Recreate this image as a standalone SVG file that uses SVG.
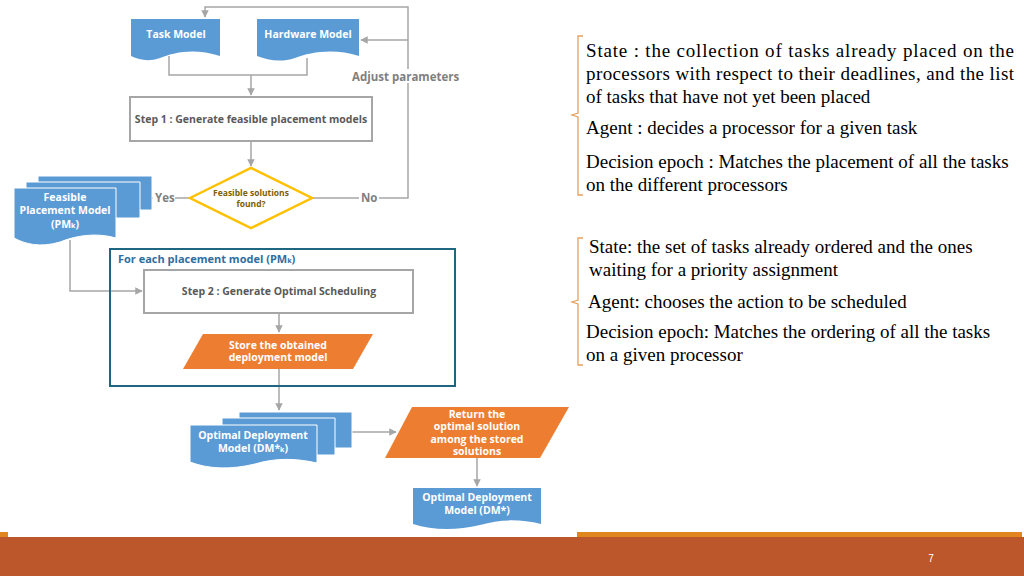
<svg xmlns="http://www.w3.org/2000/svg" width="1024" height="576" viewBox="0 0 1024 576">
<defs>
<style>
.doc{fill:#5B9BD5}
.dt{font-family:"Open Sans","Liberation Sans",sans-serif;font-weight:bold;font-size:10.5px;fill:#fff;text-anchor:middle}
.c{fill:none;stroke:#A6A6A6;stroke-width:1.5}
.box{fill:#fff;stroke:#A6A6A6;stroke-width:2}
.bt{font-family:"Open Sans","Liberation Sans",sans-serif;font-weight:bold;font-size:10.5px;fill:#595959;text-anchor:middle}
.lb{font-family:"Open Sans","Liberation Sans",sans-serif;font-weight:bold;font-size:11.5px;fill:#7F7F7F}
.par{fill:#ED7D31}
.rt{font-family:"Liberation Serif",serif;font-size:19px;fill:#000}
.br{fill:none;stroke:#E6A15C;stroke-width:1.3}
</style>
<marker id="a" viewBox="0 0 10 10" refX="9" refY="5" markerWidth="5" markerHeight="5" orient="auto"><path d="M0,0 L10,5 L0,10 z" fill="#A6A6A6"/></marker>
</defs>
<rect width="1024" height="576" fill="#fff"/>
<g id="connectors">
<path class="c" d="M312,198 H408 V7 H205 V17" marker-end="url(#a)"/>
<path class="c" d="M408,40 H361" marker-end="url(#a)"/>
<path class="c" d="M169,56 V75 H307 V58"/>
<path class="c" d="M251,75 V95" marker-end="url(#a)"/>
<path class="c" d="M251,141 V166" marker-end="url(#a)"/>
<path class="c" d="M190,198 H141" marker-end="url(#a)"/>
<path class="c" d="M70,240 V291 H142" marker-end="url(#a)"/>
<path class="c" d="M279,313 V332" marker-end="url(#a)"/>
<path class="c" d="M279,369 V410" marker-end="url(#a)"/>
<path class="c" d="M352,432 H396" marker-end="url(#a)"/>
<path class="c" d="M477,458 V486" marker-end="url(#a)"/>
</g>
<g id="task-model"><path class="doc" d="M131,19 H220 V56 C195,48 175,52 160,58 C148,62 140,60 131,56 Z"/><text class="dt" x="176" y="38">Task Model</text></g>
<g id="hardware-model"><path class="doc" d="M257,19 H359 V56 C335,48 310,52 295,58 C280,63 268,60 257,56 Z"/><text class="dt" x="308" y="38">Hardware Model</text></g>
<rect x="351" y="69" width="106" height="14" fill="#fff"/>
<text class="lb" x="352" y="81">Adjust parameters</text>
<g id="step1"><rect class="box" x="130" y="97" width="242" height="44"/><text class="bt" x="251" y="123">Step 1 : Generate feasible placement models</text></g>
<g id="decision"><path d="M190,198 L251,168 L312,198 L251,228 Z" fill="#fff" stroke="#FFC000" stroke-width="2.5"/><text font-family="Open Sans, Liberation Sans, sans-serif" font-weight="bold" font-size="8.5" fill="#7F6000" text-anchor="middle"><tspan x="251" y="196">Feasible solutions</tspan><tspan x="251" y="207">found?</tspan></text></g>
<rect x="153" y="190" width="22" height="14" fill="#fff"/>
<text class="lb" x="155" y="202">Yes</text>
<rect x="359" y="190" width="20" height="14" fill="#fff"/>
<text class="lb" x="361" y="202">No</text>
<g id="feasible">
<path class="doc" d="M38,176 H152 V210 H38 Z" stroke="#fff" stroke-width="1"/>
<path class="doc" d="M26,182 H140 V218 H26 Z" stroke="#fff" stroke-width="1"/>
<path class="doc" d="M14,188 H116 V238 C95,232 75,236 60,242 C40,248 25,244 14,238 Z" stroke="#fff" stroke-width="1"/>
<text class="dt"><tspan x="65" y="201">Feasible</tspan><tspan x="65" y="214">Placement Model</tspan><tspan x="65" y="228">(PM<tspan font-size="7">k</tspan>)</tspan></text>
</g>
<g id="loop-box"><rect x="110" y="249" width="345" height="137" fill="none" stroke="#1F6680" stroke-width="2"/><text x="118" y="263" font-family="Open Sans, Liberation Sans, sans-serif" font-weight="bold" font-size="11" fill="#2F6E9E">For each placement model (PM<tspan font-size="7">k</tspan>)</text></g>
<g id="step2"><rect class="box" x="144" y="270" width="269" height="43"/><text class="bt" x="279" y="295">Step 2 : Generate Optimal Scheduling</text></g>
<g id="store"><path class="par" d="M203,334 H373 L353,369 H183 Z"/><text class="dt"><tspan x="278" y="349">Store the obtained</tspan><tspan x="278" y="361">deployment model</tspan></text></g>
<g id="dmk">
<path class="doc" d="M239,412 H352 V448 H239 Z" stroke="#fff"/>
<path class="doc" d="M222,418 H335 V455 H222 Z" stroke="#fff"/>
<path class="doc" d="M190,425 H317 V463 C295,458 275,458 255,464 C230,470 208,469 190,462 Z" stroke="#fff"/>
<text class="dt"><tspan x="253" y="439">Optimal Deployment</tspan><tspan x="253" y="452">Model (DM*<tspan font-size="7">k</tspan>)</tspan></text>
</g>
<g id="return"><path class="par" d="M412,407 H569 L540,458 H385 Z"/><text class="dt"><tspan x="477" y="418">Return the</tspan><tspan x="477" y="430">optimal solution</tspan><tspan x="477" y="443">among the stored</tspan><tspan x="477" y="455">solutions</tspan></text></g>
<g id="dm"><path class="doc" d="M413,488 H541 V524 C520,519 500,519 480,525 C455,531 432,530 413,524 Z"/><text class="dt"><tspan x="477" y="501">Optimal Deployment</tspan><tspan x="477" y="514">Model (DM*)</tspan></text></g>
<path class="br" d="M583,36 H578 V113 L572,115 L578,117 V195 H583"/>
<path class="br" d="M583,238 H578 V300 L572,302 L578,304 V365 H583"/>
<g class="rt">
<text x="586" y="57" textLength="428" lengthAdjust="spacing">State :   the collection of tasks already placed on the</text>
<text x="586" y="80" textLength="428" lengthAdjust="spacing">processors with respect to their deadlines, and the list</text>
<text x="586" y="103">of tasks that have not yet been placed</text>
<text x="586" y="134">Agent : decides a processor for a given task</text>
<text x="586" y="168">Decision epoch : Matches the placement of all the tasks</text>
<text x="586" y="191">on the different processors</text>
<text x="589" y="253">State: the set of tasks already ordered and the ones</text>
<text x="589" y="276">waiting for a priority assignment</text>
<text x="588" y="308">Agent: chooses the action to be scheduled</text>
<text x="586" y="338">Decision epoch: Matches the ordering of all the tasks</text>
<text x="586" y="361">on a given processor</text>
</g>
<rect x="0" y="532" width="8" height="5" fill="#E0861E"/>
<rect x="577" y="532" width="445" height="5" fill="#E0861E"/>
<rect x="0" y="537" width="1024" height="39" fill="#BC572B"/>
<text x="931" y="562" font-family="Liberation Sans, sans-serif" font-size="10" fill="#fff" text-anchor="middle">7</text>
</svg>
